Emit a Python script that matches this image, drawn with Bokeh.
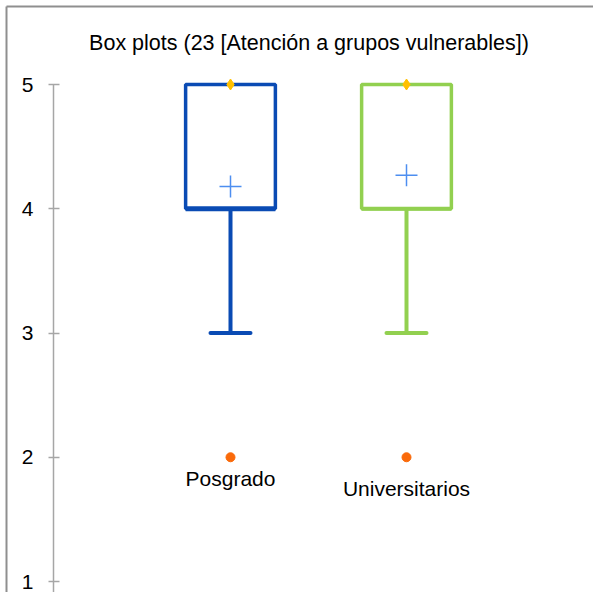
from bokeh.plotting import figure
from bokeh.embed import file_html
from bokeh.resources import INLINE
from bokeh.core.properties import value
from bokeh.models import Label

categories = ["Posgrado", "Universitarios"]
q1 = [4, 4]
median = [4, 4]
q3 = [5, 5]
whisker_low = [3, 3]
maximum = [5, 5]
means = [4.18, 4.27]
outliers = [2, 2]
colors = ["#0a4bb4", "#92d050"]
median_widths = [5, 4]
label_offsets = [21, 31]
y_ticks = [1, 2, 3, 4, 5]
title_text = "Box plots (23 [Atención a grupos vulnerables])"

FONT = "Liberation Sans"

# layout: frame fills the whole canvas (px = 230 + 176*x ; py = 84 + 124.25*(5-y))
W, H = 593, 592
def xd(px):
    return (px - 230) / 176.0
def yd(py):
    return 5 + (84 - py) / 124.25

p = figure(width=W, height=H, output_backend="svg", toolbar_location=None,
           x_range=(xd(0), xd(W)), y_range=(yd(H), yd(0)),
           min_border_left=0, min_border_right=0, min_border_bottom=0, min_border_top=0,
           x_axis_type=None)
p.outline_line_color = None
p.xgrid.visible = False
p.ygrid.visible = False

# chart-area border (left and top edges)
bx, by = xd(6), yd(6)
p.segment(x0=[bx, bx], y0=[yd(H), by], x1=[bx, xd(W)], y1=[by, by],
          line_color="#8f8f8f", line_width=2)

ax = p.yaxis[0]
ax.fixed_location = xd(53)
ax.bounds = (yd(608), 5)
ax.ticker = y_ticks
ax.axis_line_color = "#a6a6a6"
ax.axis_line_width = 1.5
ax.major_tick_line_color = "#a6a6a6"
ax.major_tick_line_width = 1.5
ax.major_tick_in = 6
ax.major_tick_out = 5
ax.minor_tick_line_color = None
ax.major_label_standoff = 15
ax.major_label_text_font = FONT
ax.major_label_text_font_size = "21px"
ax.major_label_text_color = "#000000"

p.add_layout(Label(x=xd(308.5), y=yd(42), text=title_text, text_align="center",
                   text_baseline="middle", text_font=FONT, text_font_size="21.5px",
                   text_color="#000000"))

xs = list(range(len(categories)))
box_w = 0.51

for i, cat in enumerate(categories):
    c = colors[i]
    # whisker
    p.segment(x0=[xs[i]], y0=[q1[i]], x1=[xs[i]], y1=[whisker_low[i]], line_color=c, line_width=4)
    p.scatter(x=[xs[i]], y=[whisker_low[i]], marker="dash", size=40, line_color=c,
              line_width=4, line_cap="round")
    # box
    p.vbar(x=[xs[i]], width=box_w, top=[q3[i]], bottom=[q1[i]], fill_color="white",
           line_color=c, line_width=3.5)
    # median
    p.segment(x0=[xs[i] - box_w / 2], y0=[median[i]], x1=[xs[i] + box_w / 2], y1=[median[i]],
              line_color=c, line_width=median_widths[i])
    # mean
    p.scatter(x=[xs[i]], y=[means[i]], marker="cross", size=22, line_color="#4d8ef0", line_width=1.5)
    # maximum
    p.scatter(x=[xs[i]], y=[maximum[i]], marker="diamond", size=11, fill_color="#ffc000",
              line_color="#ffc000")
    # outlier
    p.scatter(x=[xs[i]], y=[outliers[i]], marker="circle", size=9, fill_color="#fa6a0a",
              line_color="#fa6a0a")
    # label
    p.text(x=[xs[i]], y=[outliers[i]], text=[cat], text_align="center", text_baseline="middle",
           y_offset=label_offsets[i], text_font=value(FONT), text_font_size="21px", text_color="#000000")

open("out.html", "w").write(file_html(p, INLINE))
